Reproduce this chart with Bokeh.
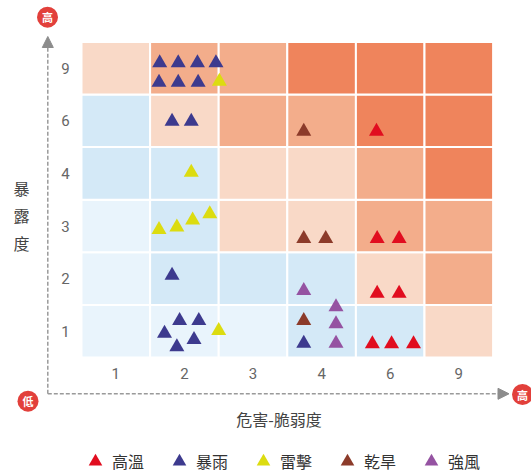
from bokeh.plotting import figure
from bokeh.models import ColumnDataSource, Range1d, Arrow, NormalHead, Legend, LegendItem
from bokeh.core.properties import value
from bokeh.embed import file_html
from bokeh.resources import INLINE

# ---------------- data ----------------
x_levels = ["1", "2", "3", "4", "6", "9"]   # 危害-脆弱度
y_levels = ["1", "2", "3", "4", "6", "9"]   # 暴露度
x_title = "危害-脆弱度"
y_title = "暴露度"

# risk band of each cell; rows = exposure 1 (bottom) .. 9 (top), columns follow x_levels
risk_band = [
    [0, 0, 0, 1, 1, 2],
    [0, 1, 1, 1, 2, 3],
    [0, 1, 2, 2, 3, 3],
    [1, 1, 2, 2, 3, 4],
    [1, 2, 3, 3, 4, 4],
    [2, 3, 3, 4, 4, 4],
]
band_colors = ["#e9f4fc", "#d4e9f7", "#f9d9c7", "#f3ad8b", "#ef845c"]

hazards = ["高溫", "暴雨", "雷擊", "乾旱", "強風"]
hazard_colors = ["#e10d1f", "#3d3a8e", "#dcdc10", "#8c3b2a", "#9553a2"]

# events: (危害-脆弱度, 暴露度)
heat_x = ["6", "6", "6", "6", "6", "6", "6", "6"]
heat_y = ["6", "3", "3", "2", "2", "1", "1", "1"]
rain_x = ["2", "2", "2", "2", "2", "2", "2", "2", "2", "2", "2", "2", "2", "2", "2", "4"]
rain_y = ["9", "9", "9", "9", "9", "9", "9", "6", "6", "2", "1", "1", "1", "1", "1", "1"]
bolt_x = ["2", "2", "2", "2", "2", "2", "2"]
bolt_y = ["9", "4", "3", "3", "3", "3", "1"]
drought_x = ["4", "4", "4", "4"]
drought_y = ["6", "3", "3", "1"]
wind_x = ["4", "4", "4", "4"]
wind_y = ["2", "1", "1", "1"]

# ---------------- layout (placement of markers inside their cell) ----------------
heat_pos = [(.30, .30), (.31, .26), (.63, .26), (.31, .22), (.63, .22), (.24, .26), (.52, .26), (.84, .26)]
rain_pos = [(.14, .60), (.41, .60), (.69, .60), (.96, .60), (.13, .23), (.41, .23), (.70, .23),
            (.32, .49), (.60, .49), (.32, .56),
            (.43, .70), (.71, .70), (.21, .46), (.64, .34), (.39, .20), (.24, .27)]
bolt_pos = [(1.01, .25), (.60, .52), (.13, .43), (.39, .48), (.62, .61), (.87, .73), (1.00, .51)]
drought_pos = [(.24, .30), (.24, .26), (.56, .26), (.24, .70)]
wind_pos = [(.24, .27), (.71, .96), (.71, .64), (.71, .27)]

W, H = 531, 475
UX, UY = 68.6, 52.6          # pixel size of one cell
GX0, GY0 = 81, 357           # grid origin (left, bottom) in canvas pixels from top-left


def X(px):
    return (px - GX0) / UX


def Y(py):
    return (GY0 - py) / UY


p = figure(width=W, height=H, output_backend="svg", toolbar_location=None,
           x_range=Range1d(X(0), X(W)), y_range=Range1d(Y(H), Y(0)),
           min_border=0, outline_line_color=None)
p.xaxis.visible = False
p.yaxis.visible = False
p.grid.visible = False
p.background_fill_color = "white"
p.border_fill_color = "white"

# cells
cx, cy, cc = [], [], []
for j, yl in enumerate(y_levels):
    for i, xl in enumerate(x_levels):
        cx.append(i + 0.5)
        cy.append(j + 0.5)
        cc.append(band_colors[risk_band[j][i]])
p.rect(x="x", y="y", width=1, height=1, fill_color="c", line_color="white", line_width=2,
       source=ColumnDataSource(dict(x=cx, y=cy, c=cc)))

# tick labels
p.text(x=[i + 0.5 for i in range(len(x_levels))], y=[Y(372.5)] * len(x_levels), text=x_levels,
       text_align="center", text_baseline="middle", text_color="#666666",
       text_font=value("Roboto"), text_font_size=value("15px"))
p.text(x=[X(65)] * len(y_levels), y=[j + 0.5 for j in range(len(y_levels))], text=y_levels,
       text_align="center", text_baseline="middle", text_color="#666666",
       text_font=value("Roboto"), text_font_size=value("15px"))

# axis arrows
head_kw = dict(size=11, fill_color="#8c8c8c", line_color="#8c8c8c", line_width=1)
p.add_layout(Arrow(end=NormalHead(**head_kw), x_start=X(47.3), y_start=Y(393.3),
                   x_end=X(47.3), y_end=Y(36), line_color="#9a9a9a", line_width=1.5, line_dash="4 2"))
p.add_layout(Arrow(end=NormalHead(**head_kw), x_start=X(47.3), y_start=Y(393.3),
                   x_end=X(508.5), y_end=Y(393.3), line_color="#9a9a9a", line_width=1.5, line_dash="4 2"))

# red end badges
bx = [X(47), X(27.5), X(522)]
by = [Y(16.7), Y(400.7), Y(394)]
p.scatter(x=bx, y=by, marker="circle", size=21, fill_color="#e2403b", line_color=None)
p.text(x=bx, y=by, text=["高", "低", "高"], text_align="center", text_baseline="middle",
       text_color="white", text_font=value("Noto Sans CJK TC"), text_font_size=value("11px"),
       text_font_style="bold")

# axis titles
p.text(x=[X(278.5)], y=[Y(418)], text=[x_title], text_align="center", text_baseline="middle",
       text_color="#444444", text_font=value("Noto Sans CJK TC"), text_font_size=value("16px"))
p.text(x=[X(21)], y=[Y(215)], text=["\n".join(y_title)], text_align="center", text_baseline="middle",
       text_color="#444444", text_font=value("Noto Sans CJK TC"), text_font_size=value("16px"),
       text_line_height=1.15)

# events
series = [(heat_x, heat_y, heat_pos), (rain_x, rain_y, rain_pos), (bolt_x, bolt_y, bolt_pos),
          (drought_x, drought_y, drought_pos), (wind_x, wind_y, wind_pos)]
items = []
for name, color, (sx, sy, pos) in zip(hazards, hazard_colors, series):
    xs = [x_levels.index(a) + d[0] for a, d in zip(sx, pos)]
    ys = [y_levels.index(b) + d[1] for b, d in zip(sy, pos)]
    r = p.scatter(x=xs, y=ys, marker="triangle", size=15, fill_color=color, line_color=None)
    items.append(LegendItem(label=name, renderers=[r]))

legend = Legend(items=items, orientation="horizontal", location=(78, -3),
                glyph_width=34, glyph_height=34, label_standoff=0, spacing=18,
                padding=0, margin=0, border_line_color=None, background_fill_alpha=0,
                label_text_font="Noto Sans CJK TC", label_text_font_size="16px",
                label_text_color="#333333", label_width=32)
p.add_layout(legend)

open("out.html", "w").write(file_html(p, INLINE))
